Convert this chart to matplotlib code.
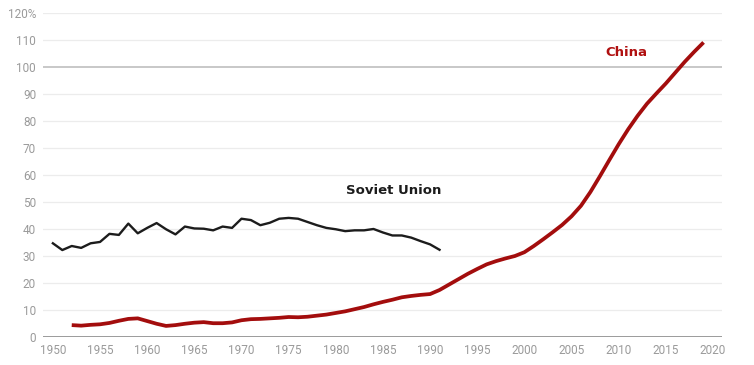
import numpy as np
import matplotlib
matplotlib.use("Agg")
from matplotlib import pyplot as plt

### Data
soviet_years = list(range(1950, 1992))
soviet_vals = [34.8, 32.3, 33.8, 33.1, 34.8, 35.3, 38.3, 37.9, 42.1, 38.5,
               40.5, 42.3, 40.0, 38.1, 41.0, 40.3, 40.2, 39.6, 41.0, 40.5,
               43.9, 43.4, 41.5, 42.4, 43.9, 44.2, 43.9, 42.7, 41.5, 40.5,
               40.0, 39.3, 39.6, 39.6, 40.1, 38.8, 37.7, 37.7, 36.9, 35.6,
               34.4, 32.4]

china_years = list(range(1952, 2020))
china_vals = [4.5, 4.3, 4.6, 4.8, 5.3, 6.1, 6.8, 7.0, 6.0, 5.0,
              4.2, 4.5, 5.0, 5.4, 5.6, 5.2, 5.2, 5.5, 6.3, 6.7,
              6.8, 7.0, 7.2, 7.5, 7.4, 7.6, 8.0, 8.4, 9.0, 9.6,
              10.4, 11.2, 12.2, 13.1, 13.9, 14.8, 15.3, 15.7, 16.0, 17.5,
              19.5, 21.5, 23.5, 25.3, 27.0, 28.2, 29.2, 30.1, 31.5, 33.8,
              36.3, 38.9, 41.6, 44.8, 48.7, 53.8, 59.6, 65.6, 71.5, 77.0,
              82.0, 86.5, 90.3, 94.0, 98.0, 102.0, 105.7, 109.2]

x_ticks = list(range(1950, 2021, 5))
y_ticks = list(range(0, 121, 10))
y_labels = [str(v) for v in y_ticks[:-1]] + ["120%"]

plt.rcParams['font.family'] = ['Roboto', 'DejaVu Sans']

fig = plt.figure(figsize=(7.54, 3.65), dpi=100)
ax = fig.add_axes([0.057, 0.076, 0.9005, 0.8877])

ax.set_xlim(1948.95, 2020.95)
ax.set_ylim(0, 120)

# grid lines
for v in y_ticks[1:]:
    if v == 100:
        ax.axhline(v, color='#c8c8c8', lw=1.4, zorder=1)
    else:
        ax.axhline(v, color='#ececec', lw=0.9, zorder=1)
ax.axhline(0, color='#8a8a8a', lw=1.2, zorder=2)

ax.plot(soviet_years, soviet_vals, color='#1c1c1c', lw=1.7, zorder=3)
ax.plot(china_years, china_vals, color='#a30d0d', lw=2.7, zorder=4,
        solid_capstyle='butt')

ax.text(1986.1, 54.5, "Soviet Union", fontsize=9.5, fontweight='bold',
        color='#1c1c1c', ha='center', va='center', family='DejaVu Sans')
ax.text(2010.8, 105.6, "China", fontsize=9.5, fontweight='bold',
        color='#b01010', ha='center', va='center', family='DejaVu Sans')

ax.set_xticks(x_ticks)
ax.set_yticks(y_ticks)
ax.set_yticklabels(y_labels)
ax.tick_params(axis='both', length=0, labelsize=8.5, labelcolor='#9a9a9a')
ax.tick_params(axis='y', pad=5)
ax.tick_params(axis='x', pad=5)
for s in ax.spines.values():
    s.set_visible(False)

fig.savefig("out.png", dpi=100)
